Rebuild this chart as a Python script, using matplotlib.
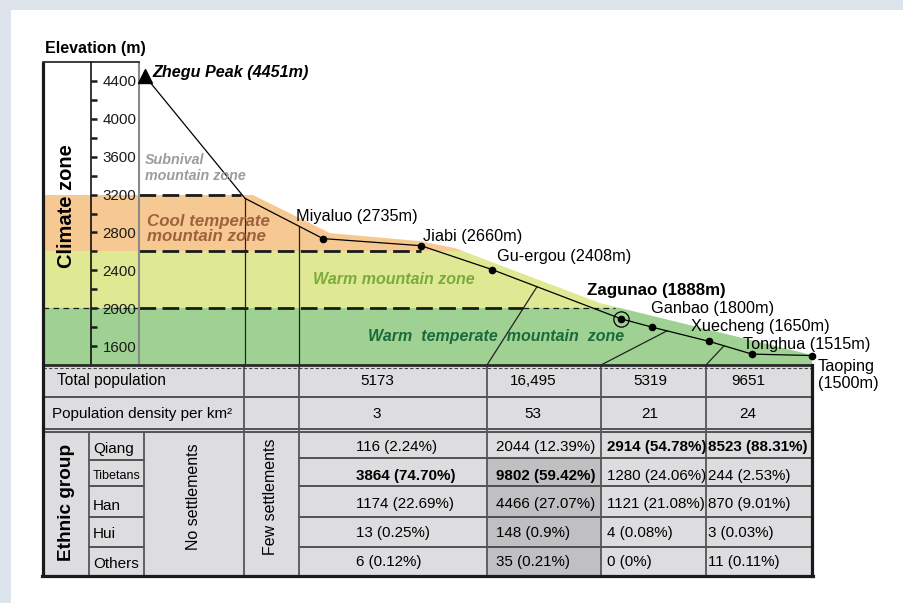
import numpy as np
import matplotlib.pyplot as plt
from matplotlib.patches import Rectangle, Polygon

plt.rcParams['font.family'] = ['Liberation Sans', 'DejaVu Sans']

# section profile: distance along the section and elevation (m)
peak_name = 'Zhegu Peak'
peak_dist, peak_elev = 145, 4451
bend_dist, bend_elev = 245, 3160   # unlabelled bend below the peak
station_names = ['Miyaluo', 'Jiabi', 'Gu-ergou', 'Zagunao', 'Ganbao',
                 'Xuecheng', 'Tonghua', 'Taoping']
station_dist = [323, 421, 492, 621, 652, 709, 752, 812]
station_elev = [2735, 2660, 2408, 1888, 1800, 1650, 1515, 1500]

# climate zones
zone_names = ['Warm  temperate  mountain  zone', 'Warm mountain zone',
              'Cool temperate\nmountain zone', 'Subnival\nmountain zone']
zone_bounds = [1400, 2000, 2600, 3200]
# ground surface the zone colours are clipped to
surface_dist = [43, 245, 330, 420, 455, 600, 812, 812, 43]
surface_elev = [3300, 3236, 2793, 2708, 2634, 2054, 1505, 1400, 1400]

elev_ticks = [1600, 2000, 2400, 2800, 3200, 3600, 4000, 4400]
elev_minor = [1800, 2200, 2600, 3000, 3400, 3800, 4200]

# table
total_pop = [5173, 16495, 5319, 9651]
pop_density = [3, 53, 21, 24]
ethnic_groups = ['Qiang', 'Tibetans', 'Han', 'Hui', 'Others']
qiang = [116, 2044, 2914, 8523]
qiang_pct = ['2.24', '12.39', '54.78', '88.31']
tibetans = [3864, 9802, 1280, 244]
tibetans_pct = ['74.70', '59.42', '24.06', '2.53']
han = [1174, 4466, 1121, 870]
han_pct = ['22.69', '27.07', '21.08', '9.01']
hui = [13, 148, 4, 3]
hui_pct = ['0.25', '0.9', '0.08', '0.03']
others = [6, 35, 0, 11]
others_pct = ['0.12', '0.21', '0', '0.11']

W, H = 904, 603
top_px, base_px = 62, 365
ymin, ymax = 1400, 4600

fig = plt.figure(figsize=(W / 100, H / 100), dpi=100, facecolor='#dde4ec')
fig.add_artist(Rectangle((11 / W, 0), 1 - 11 / W, 1 - 10 / H, transform=fig.transFigure,
                         fc='white', ec='none', zorder=-1))

# ---- profile panel (elevation units) ----
ax_p = fig.add_axes([0, 1 - base_px / H, 1, (base_px - top_px) / H])
ax_p.set_xlim(0, W)
ax_p.set_ylim(ymin, ymax)
ax_p.axis('off')

surf = Polygon(np.column_stack([surface_dist, surface_elev]), closed=True,
               fc='none', ec='none')
ax_p.add_patch(surf)
zone_colors = ['#9fd193', '#dfe893', '#f7c992']
bounds = zone_bounds + [ymax]
for lo, hi, c in zip(bounds[:3], bounds[1:4], zone_colors):
    r = Rectangle((43, lo), 812 - 43, hi - lo, fc=c, ec='none', zorder=1)
    ax_p.add_patch(r)
    r.set_clip_path(surf)

# zone boundaries
thick = dict(color='#1a1a1a', lw=2.0, dashes=(6.0, 2.3), zorder=3)
thin = dict(color='#1a1a1a', lw=0.9, dashes=(4.5, 3.5), zorder=3)
ax_p.plot([139, 241], [zone_bounds[3]] * 2, **thick)
ax_p.plot([139, 421], [zone_bounds[2]] * 2, **thick)
ax_p.plot([139, 523], [zone_bounds[1]] * 2, **thick)
ax_p.plot([43, 139], [zone_bounds[1]] * 2, **thin)
ax_p.plot([523, 615], [zone_bounds[1]] * 2, **thin)

prof_x = [peak_dist, bend_dist] + station_dist
prof_e = [peak_elev, bend_elev] + station_elev

ax_p.plot([139, 139], [ymin, ymax], color='#8a8a8a', lw=1.5, zorder=3)
for xv in [245, 299]:
    ax_p.plot([xv, xv], [np.interp(xv, prof_x, prof_e), ymin], color='#222222', lw=0.9, zorder=3)
for xt, xb in zip([537, 667, 724], [487, 601, 706]):
    ax_p.plot([xt, xb], [np.interp(xt, prof_x, prof_e), ymin], color='#222222', lw=0.9, zorder=3)

ax_p.plot(prof_x, prof_e, color='black', lw=0.9, zorder=4)
ax_p.plot(station_dist, station_elev, 'o', color='black', ms=4.5, zorder=5)
ax_p.plot(peak_dist, peak_elev, '^', color='black', ms=10, zorder=5)
iz = station_names.index('Zagunao')
ax_p.plot(station_dist[iz], station_elev[iz], 'o', mfc='none', mec='black', ms=11, mew=0.9, zorder=5)

# ---- elevation axis ----
ax_t = fig.add_axes([43 / W, 1 - base_px / H, (91 - 43) / W, (base_px - top_px) / H])
ax_t.set_facecolor('none')
ax_t.set_ylim(ymin, ymax)
for s in ['left', 'top', 'bottom']:
    ax_t.spines[s].set_visible(False)
ax_t.spines['right'].set_linewidth(1.1)
ax_t.yaxis.tick_right()
ax_t.set_xticks([])
ax_t.set_yticks(elev_ticks)
ax_t.set_yticks(elev_minor, minor=True)
ax_t.tick_params(axis='y', which='both', direction='out', length=4, width=1.8, pad=4.3,
                 labelsize=10.9, colors='#1a1a1a')

# ---- overlay in pixel coordinates: labels, table, frame ----
ax = fig.add_axes([0, 0, 1, 1])
ax.set_xlim(0, W)
ax.set_ylim(H, 0)
ax.axis('off')
ax.set_facecolor('none')

ax.text(45, 49, 'Elevation (m)', fontsize=11.5, fontweight='bold', ha='left', va='center')
ax.text(67, 206, 'Climate zone', fontsize=14.5, fontweight='bold', rotation=90,
        ha='center', va='center')
ax.text(152, 73, f'{peak_name} ({peak_elev}m)', fontsize=11.6, fontweight='bold',
        style='italic', ha='left', va='center')

zone_pos = [(368, 336), (313, 279), (147, 229), (145, 168)]
zone_tcolors = ['#1c6a3b', '#7aab3d', '#a0603f', '#9c9c9c']
zone_sizes = [11.5, 11.5, 12.2, 10.3]
zone_lsp = [1.0, 1.0, 0.95, 1.25]
for name, (x, y), c, fs, ls in zip(zone_names, zone_pos, zone_tcolors, zone_sizes, zone_lsp):
    ax.text(x, y, name, color=c, fontsize=fs, fontweight='bold', style='italic',
            ha='left', va='center', linespacing=ls)

label_pos = [(296, 216), (423, 236), (497, 257), (587, 291), (651, 309),
             (691, 327), (743, 344), (818, 375)]
for name, elev, (x, y) in zip(station_names, station_elev, label_pos):
    txt = f'{name}\n({elev}m)' if name == 'Taoping' else f'{name} ({elev}m)'
    ax.text(x, y, txt, fontsize=11.7 if name != 'Zagunao' else 12.2,
            fontweight='bold' if name == 'Zagunao' else 'normal',
            ha='left', va='center', linespacing=1.1)

# table
ax.add_patch(Rectangle((43, 365), 812 - 43, 576 - 365, fc='#dddddf', ec='none', zorder=0))
ax.add_patch(Rectangle((487, 458), 601 - 487, 576 - 458, fc='#c0c0c2', ec='none', zorder=0))
lc = '#3a3a3a'
for y in [397, 458, 486, 517, 547]:
    ax.plot([299, 812], [y, y], color=lc, lw=1.2)
for y in [397]:
    ax.plot([43, 299], [y, y], color=lc, lw=1.2)
for y in [429, 432]:
    ax.plot([43, 812], [y, y], color=lc, lw=1.2)
for y in [460, 486, 517, 547]:
    ax.plot([89, 144], [y, y], color=lc, lw=1.2)
for x in [244, 299, 487, 601, 706]:
    ax.plot([x, x], [365, 576], color='#555555', lw=1.3)
for x in [89, 144]:
    ax.plot([x, x], [432, 576], color='#555555', lw=1.3)
ax.plot([43, 812], [365, 365], color='#2a2a2a', lw=2)
ax.plot([43, 812], [367.5, 367.5], color='#444444', lw=0.8, dashes=(3, 2))

ax.text(57, 381, 'Total population', fontsize=11.2, ha='left', va='center')
ax.text(52, 414, 'Population density per km²', fontsize=11.0, ha='left', va='center')
ax.text(67, 502, 'Ethnic group', fontsize=13.7, fontweight='bold', rotation=90,
        ha='center', va='center')
ax.text(194, 497, 'No settlements', fontsize=11.5, rotation=90, ha='center', va='center')
ax.text(271, 497, 'Few settlements', fontsize=11.5, rotation=90, ha='center', va='center')

val_center = [377, 533, 650, 748]
for v, d, x in zip(total_pop, pop_density, val_center):
    ax.text(x, 381, f'{v:,}' if v > 9999 else str(v), fontsize=11.0, ha='center', va='center')
    ax.text(x, 414, str(d), fontsize=11.0, ha='center', va='center')

counts = [qiang, tibetans, han, hui, others]
pcts = [qiang_pct, tibetans_pct, han_pct, hui_pct, others_pct]
name_y = [449, 476, 506, 534, 564]
row_y = [447, 476, 504, 533, 562]
val_left = [356, 496, 607, 708]
top_group = np.argmax(np.array(counts), axis=0)
for i, g in enumerate(ethnic_groups):
    ax.text(93, name_y[i], g, fontsize=9 if g == 'Tibetans' else 11.0, ha='left', va='center')
    for j in range(4):
        ax.text(val_left[j], row_y[i], f'{counts[i][j]} ({pcts[i][j]}%)', fontsize=10.9,
                fontweight='bold' if top_group[j] == i else 'normal', ha='left', va='center')

# frame
fc = '#1a1a1a'
ax.plot([43, 43], [62, 576], color=fc, lw=2.3, solid_capstyle='butt')
ax.plot([43, 139], [62, 62], color=fc, lw=1.2)
ax.plot([42, 813], [576, 576], color=fc, lw=2.3)
ax.plot([812, 812], [365, 576], color=fc, lw=2.3)

fig.savefig('out.png', dpi=100, facecolor=fig.get_facecolor())
